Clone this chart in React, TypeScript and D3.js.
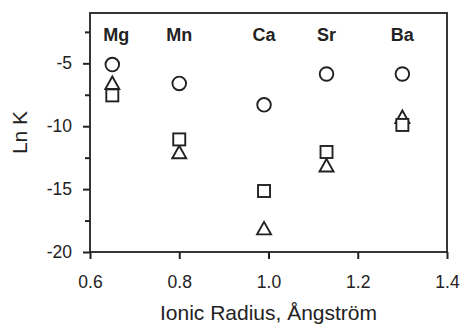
import React, { useEffect, useRef } from "react";
import * as d3 from "d3";

// Divalent cations and their ionic radii (Å)
const elements = ["Mg", "Mn", "Ca", "Sr", "Ba"];
const ionicRadius = [0.65, 0.8, 0.99, 1.13, 1.3];

// Ln K for the three series (circle, triangle, square markers)
const circleLnK = [-5.1, -6.6, -8.3, -5.85, -5.85];
const triangleLnK = [-6.55, -12.05, -18.1, -13.1, -9.25];
const squareLnK = [-7.55, -11.05, -15.15, -12.05, -9.9];

const xTicks = [0.6, 0.8, 1.0, 1.2, 1.4];
const yTicks = [-20, -15, -10, -5];
const yMinorTicks = [-17.5, -12.5, -7.5, -2.5];

const W = 461;
const H = 326;
const margin = { left: 90, right: 14, top: 13, bottom: 74 };
const INK = "#222";
const FONT = "Arial, 'Liberation Sans', Helvetica, sans-serif";

export default function App() {
  const ref = useRef<SVGSVGElement>(null);

  useEffect(() => {
    const svg = d3.select(ref.current);
    svg.selectAll("*").remove();

    const x = d3
      .scaleLinear()
      .domain([0.6, 1.4])
      .range([margin.left, W - margin.right]);
    const y = d3
      .scaleLinear()
      .domain([-20, -1])
      .range([H - margin.bottom, margin.top]);

    // minor y ticks
    const yMinor = svg
      .append("g")
      .attr("transform", `translate(${margin.left},0)`)
      .call(d3.axisLeft(y).tickValues(yMinorTicks).tickSize(5).tickFormat(() => ""));
    yMinor.select(".domain").remove();

    // major y ticks
    const yAxis = svg
      .append("g")
      .attr("transform", `translate(${margin.left},0)`)
      .call(
        d3
          .axisLeft(y)
          .tickValues(yTicks)
          .tickSize(7)
          .tickPadding(11)
          .tickFormat((d) => String(d))
      );
    yAxis.select(".domain").remove();

    const xAxis = svg
      .append("g")
      .attr("transform", `translate(0,${H - margin.bottom})`)
      .call(
        d3
          .axisBottom(x)
          .tickValues(xTicks)
          .tickSize(7)
          .tickPadding(17)
          .tickFormat(d3.format(".1f"))
      );
    xAxis.select(".domain").remove();

    svg
      .selectAll(".tick line")
      .attr("stroke", INK)
      .attr("stroke-width", 2);
    svg
      .selectAll(".tick text")
      .attr("fill", INK)
      .attr("font-family", FONT)
      .attr("font-size", 17.5);

    // plot frame
    svg
      .append("rect")
      .attr("x", margin.left)
      .attr("y", margin.top)
      .attr("width", W - margin.left - margin.right)
      .attr("height", H - margin.top - margin.bottom)
      .attr("fill", "none")
      .attr("stroke", INK)
      .attr("stroke-width", 1.8);

    const marks = svg.append("g").attr("fill", "#fff").attr("stroke", INK).attr("stroke-width", 1.9);

    marks
      .selectAll("circle")
      .data(circleLnK)
      .join("circle")
      .attr("cx", (_, i) => x(ionicRadius[i]))
      .attr("cy", (d) => y(d))
      .attr("r", 6.8);

    const tw = 14;
    const th = 12.5;
    marks
      .selectAll("path.tri")
      .data(triangleLnK)
      .join("path")
      .attr("class", "tri")
      .attr("d", (d, i) => {
        const cx = x(ionicRadius[i]);
        const cy = y(d);
        return `M${cx},${cy - th / 2}L${cx + tw / 2},${cy + th / 2}L${cx - tw / 2},${cy + th / 2}Z`;
      })
      .attr("stroke-linejoin", "miter");

    const s = 12;
    marks
      .selectAll("rect")
      .data(squareLnK)
      .join("rect")
      .attr("x", (_, i) => x(ionicRadius[i]) - s / 2)
      .attr("y", (d) => y(d) - s / 2)
      .attr("width", s)
      .attr("height", s);

    // element labels along the top
    svg
      .append("g")
      .selectAll("text")
      .data(elements)
      .join("text")
      .attr("x", (_, i) => x(ionicRadius[i]) + (i === 0 ? 4 : 0))
      .attr("y", 41)
      .attr("text-anchor", "middle")
      .attr("font-family", FONT)
      .attr("font-weight", "bold")
      .attr("font-size", 18)
      .attr("fill", INK)
      .text((d) => d);

    svg
      .append("text")
      .attr("x", (margin.left + W - margin.right) / 2)
      .attr("y", 320)
      .attr("text-anchor", "middle")
      .attr("font-family", FONT)
      .attr("font-size", 21)
      .attr("fill", INK)
      .text("Ionic Radius, Ångström");

    svg
      .append("text")
      .attr("transform", `translate(27,${(margin.top + H - margin.bottom) / 2}) rotate(-90)`)
      .attr("text-anchor", "middle")
      .attr("font-family", FONT)
      .attr("font-size", 21)
      .attr("fill", INK)
      .text("Ln K");
  }, []);

  return (
    <svg
      ref={ref}
      width={W}
      height={H}
      style={{ position: "absolute", left: 0, top: 0, background: "#fff" }}
    />
  );
}
